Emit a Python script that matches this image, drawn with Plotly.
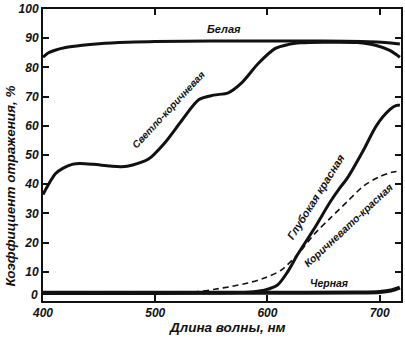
import plotly.graph_objects as go

# Wavelength grid (nm) and reflectance (%) for each sample
white_nm = [400, 405, 410, 420, 435, 450, 475, 500, 550, 600, 650, 690, 705, 718]
white_pct = [83.5, 85.0, 85.8, 86.8, 87.6, 88.1, 88.6, 88.9, 89.0, 89.0, 89.0, 88.8, 88.5, 88.0]

light_brown_nm = [400, 405, 411, 418, 426, 433, 445, 460, 470, 480, 494, 509, 524, 539, 552,
                  565, 577, 592, 607, 618, 630, 650, 680, 697, 709, 718]
light_brown_pct = [36.5, 40.0, 43.6, 45.5, 46.8, 47.1, 46.8, 46.2, 46.0, 46.6, 48.6, 54.4, 62.0,
                   69.0, 70.5, 71.3, 74.7, 81.4, 86.5, 87.8, 88.4, 88.6, 88.5, 87.5, 85.8, 83.5]

deep_red_nm = [400, 450, 500, 550, 575, 588, 598, 609, 618, 627, 642, 656, 665, 671, 686, 697, 709,
               715, 718]
deep_red_pct = [2.6, 2.6, 2.6, 2.7, 2.9, 3.2, 3.8, 5.5, 10.0, 16.0, 25.0, 34.0, 39.0, 42.0, 52.0,
                60.0, 65.5, 67.0, 67.0]

brown_red_nm = [400, 450, 500, 538, 553, 568, 583, 598, 612, 627, 642, 656, 671, 686, 700, 710, 718]
brown_red_pct = [3.0, 3.0, 3.0, 3.2, 4.0, 5.0, 6.2, 8.0, 10.5, 16.0, 23.0, 28.4, 34.0, 39.5, 42.6,
                 44.0, 44.5]

black_nm = [400, 500, 600, 680, 700, 710, 718]
black_pct = [2.8, 2.8, 2.8, 2.9, 3.1, 3.6, 4.6]

x_ticks = [400, 500, 600, 700]
y_ticks = [0, 10, 20, 30, 40, 50, 60, 70, 80, 90, 100]

FONT = "Liberation Sans"
ink = "#111111"

fig = go.Figure()

def curve(xs, ys, width=3.0, dash="solid"):
    fig.add_trace(go.Scatter(
        x=xs, y=ys, mode="lines",
        line=dict(color=ink, width=width, dash=dash, shape="spline", smoothing=0.8),
        showlegend=False, hoverinfo="skip",
    ))

curve(black_nm, black_pct, width=4.0)
curve(brown_red_nm, brown_red_pct, width=1.6, dash="6px,4px")
curve(deep_red_nm, deep_red_pct, width=3.0)
curve(light_brown_nm, light_brown_pct, width=3.0)
curve(white_nm, white_pct, width=3.0)

def label(text, x, y, angle=0, size=10.5):
    fig.add_annotation(x=x, y=y, text=text, showarrow=False, textangle=angle,
                       font=dict(family=FONT, size=size, color=ink, style="italic", weight="bold"),
                       xref="x", yref="y")

label("Белая", 561, 93.0, size=11)
label("Светло-коричневая", 512, 65.5, -47, size=10)
label("Глубокая красная", 643, 35.5, -58, size=11)
label("Коричневато-красная", 672, 26.0, -43, size=10.5)
label("Черная", 655, 6.0, size=10.5)

tick_font = dict(family=FONT, size=12, color=ink, style="italic", weight="bold")
title_font = dict(family=FONT, size=13.5, color=ink, style="italic", weight="bold")

# the zero label sits a little above the corner so it clears the "400" label
y_ticktext = ["" if v == 0 else str(v) for v in y_ticks]

fig.update_xaxes(
    range=[400, 719], tickvals=x_ticks, ticktext=[str(v) for v in x_ticks],
    ticks="inside", ticklen=6, tickwidth=1.5, tickcolor=ink,
    showline=True, linecolor=ink, linewidth=2, mirror="allticks",
    showgrid=False, zeroline=False, tickfont=tick_font, ticklabeloverflow="allow",
)
fig.update_yaxes(
    range=[0, 100], tickvals=y_ticks, ticktext=y_ticktext,
    ticks="inside", ticklen=6, tickwidth=1.5, tickcolor=ink,
    showline=True, linecolor=ink, linewidth=2, mirror="allticks",
    showgrid=False, zeroline=False, tickfont=tick_font, ticklabeloverflow="allow",
)
fig.add_annotation(text="0", xref="paper", yref="y", x=-0.008, y=2.0,
                   xanchor="right", yanchor="middle", showarrow=False, font=tick_font)

# Axis titles placed as annotations
fig.add_annotation(text="Длина волны, нм", xref="paper", yref="paper",
                   x=0.514, y=-0.091, xanchor="center", yanchor="middle",
                   showarrow=False, font=title_font)
fig.add_annotation(text="Коэффициент отражения, %", xref="paper", yref="y",
                   x=-0.09, y=39.5, xanchor="center", yanchor="middle",
                   textangle=-90, showarrow=False, font=title_font)

fig.update_layout(
    width=405, height=349,
    margin=dict(l=43, r=2, t=5, b=48),
    paper_bgcolor="white", plot_bgcolor="white",
    font=dict(family=FONT, color=ink),
)

fig.write_html("out.html")
